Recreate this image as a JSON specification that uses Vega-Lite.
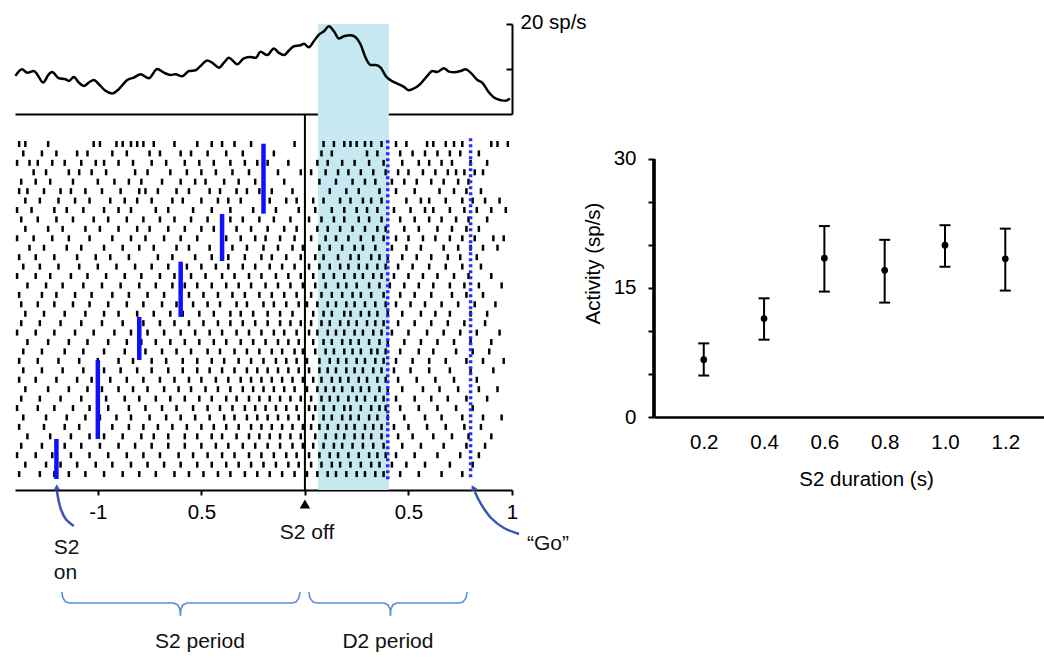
{
"$schema":"https://vega.github.io/schema/vega-lite/v6.json",
"background":"white",
"padding":{"left":10,"top":12,"right":0,"bottom":0},
"config":{"view":{"stroke":null},"font":"Liberation Sans","axis":{"domainColor":"black","tickColor":"black","labelColor":"black","titleColor":"black","labelFont":"Liberation Sans","titleFont":"Liberation Sans","labelFontSize":20.5,"titleFontSize":20.5,"titleFontWeight":"normal","grid":false,"domainWidth":2,"tickWidth":2}},
"datasets":{
"psth":[{"t":-1.398,"v":8.46},{"t":-1.366,"v":9.93},{"t":-1.341,"v":9.19},{"t":-1.309,"v":9.56},{"t":-1.293,"v":8.82},{"t":-1.264,"v":6.99},{"t":-1.237,"v":8.82},{"t":-1.221,"v":9.34},{"t":-1.188,"v":7.94},{"t":-1.156,"v":7.72},{"t":-1.14,"v":7.35},{"t":-1.116,"v":8.24},{"t":-1.092,"v":6.99},{"t":-1.068,"v":6.25},{"t":-1.043,"v":6.99},{"t":-1.019,"v":7.57},{"t":-0.995,"v":6.62},{"t":-0.963,"v":5.15},{"t":-0.931,"v":4.56},{"t":-0.899,"v":5.51},{"t":-0.858,"v":7.57},{"t":-0.826,"v":8.09},{"t":-0.794,"v":8.82},{"t":-0.754,"v":7.94},{"t":-0.713,"v":10.0},{"t":-0.681,"v":9.19},{"t":-0.649,"v":8.68},{"t":-0.625,"v":8.82},{"t":-0.593,"v":8.38},{"t":-0.56,"v":9.56},{"t":-0.528,"v":9.71},{"t":-0.504,"v":10.66},{"t":-0.472,"v":11.91},{"t":-0.448,"v":11.4},{"t":-0.415,"v":10.29},{"t":-0.391,"v":11.4},{"t":-0.367,"v":12.5},{"t":-0.343,"v":11.62},{"t":-0.327,"v":11.03},{"t":-0.295,"v":12.35},{"t":-0.262,"v":12.65},{"t":-0.238,"v":12.5},{"t":-0.214,"v":13.82},{"t":-0.182,"v":13.09},{"t":-0.15,"v":14.56},{"t":-0.126,"v":13.6},{"t":-0.101,"v":13.09},{"t":-0.077,"v":14.12},{"t":-0.053,"v":15.07},{"t":-0.021,"v":15.29},{"t":-0.005,"v":15.59},{"t":0.019,"v":14.85},{"t":0.043,"v":16.18},{"t":0.068,"v":17.65},{"t":0.092,"v":18.38},{"t":0.116,"v":19.49},{"t":0.14,"v":18.38},{"t":0.164,"v":16.76},{"t":0.188,"v":17.28},{"t":0.221,"v":17.5},{"t":0.245,"v":17.06},{"t":0.269,"v":15.44},{"t":0.293,"v":12.5},{"t":0.317,"v":10.88},{"t":0.341,"v":10.88},{"t":0.366,"v":10.29},{"t":0.39,"v":8.46},{"t":0.414,"v":7.5},{"t":0.446,"v":6.76},{"t":0.478,"v":6.03},{"t":0.502,"v":5.29},{"t":0.535,"v":5.88},{"t":0.559,"v":6.76},{"t":0.591,"v":8.46},{"t":0.615,"v":9.56},{"t":0.639,"v":9.34},{"t":0.671,"v":10.15},{"t":0.696,"v":9.41},{"t":0.72,"v":9.26},{"t":0.752,"v":9.56},{"t":0.776,"v":9.93},{"t":0.8,"v":9.19},{"t":0.833,"v":7.57},{"t":0.857,"v":6.91},{"t":0.889,"v":4.78},{"t":0.913,"v":3.68},{"t":0.945,"v":3.09},{"t":0.969,"v":2.94},{"t":0.99,"v":3.46}],
"spikes":[
{"r":1,"t":-1.38},{"r":1,"t":-1.35},{"r":1,"t":-1.24},{"r":1,"t":-1.02},{"r":1,"t":-0.99},{"r":1,"t":-0.91},{"r":1,"t":-0.88},{"r":1,"t":-0.84},{"r":1,"t":-0.81},{"r":1,"t":-0.78},{"r":1,"t":-0.73},{"r":1,"t":-0.63},{"r":1,"t":-0.52},{"r":1,"t":-0.45},{"r":1,"t":-0.4},{"r":1,"t":-0.34},{"r":1,"t":-0.26},{"r":1,"t":-0.05},{"r":1,"t":0.09},{"r":1,"t":0.14},{"r":1,"t":0.19},{"r":1,"t":0.22},{"r":1,"t":0.25},{"r":1,"t":0.29},{"r":1,"t":0.32},{"r":1,"t":0.37},{"r":1,"t":0.44},{"r":1,"t":0.49},{"r":1,"t":0.59},{"r":1,"t":0.62},{"r":1,"t":0.68},{"r":1,"t":0.72},{"r":1,"t":0.76},{"r":1,"t":0.9},{"r":1,"t":0.93},{"r":1,"t":0.98},
{"r":2,"t":-1.36},{"r":2,"t":-1.27},{"r":2,"t":-1.2},{"r":2,"t":-1.1},{"r":2,"t":-1.05},{"r":2,"t":-0.93},{"r":2,"t":-0.86},{"r":2,"t":-0.75},{"r":2,"t":-0.7},{"r":2,"t":-0.6},{"r":2,"t":-0.55},{"r":2,"t":-0.47},{"r":2,"t":-0.38},{"r":2,"t":-0.3},{"r":2,"t":-0.15},{"r":2,"t":0.08},{"r":2,"t":0.13},{"r":2,"t":0.3},{"r":2,"t":0.35},{"r":2,"t":0.46},{"r":2,"t":0.52},{"r":2,"t":0.58},{"r":2,"t":0.64},{"r":2,"t":0.7},{"r":2,"t":0.75},{"r":2,"t":0.84},
{"r":3,"t":-1.39},{"r":3,"t":-1.33},{"r":3,"t":-1.29},{"r":3,"t":-1.22},{"r":3,"t":-1.16},{"r":3,"t":-1.08},{"r":3,"t":-1.01},{"r":3,"t":-0.97},{"r":3,"t":-0.9},{"r":3,"t":-0.83},{"r":3,"t":-0.74},{"r":3,"t":-0.67},{"r":3,"t":-0.58},{"r":3,"t":-0.51},{"r":3,"t":-0.44},{"r":3,"t":-0.36},{"r":3,"t":-0.29},{"r":3,"t":-0.23},{"r":3,"t":-0.18},{"r":3,"t":-0.08},{"r":3,"t":0.06},{"r":3,"t":0.11},{"r":3,"t":0.18},{"r":3,"t":0.24},{"r":3,"t":0.31},{"r":3,"t":0.38},{"r":3,"t":0.47},{"r":3,"t":0.55},{"r":3,"t":0.6},{"r":3,"t":0.66},{"r":3,"t":0.71},{"r":3,"t":0.8},{"r":3,"t":0.88},
{"r":4,"t":-1.31},{"r":4,"t":-1.25},{"r":4,"t":-1.14},{"r":4,"t":-1.09},{"r":4,"t":-1.03},{"r":4,"t":-0.96},{"r":4,"t":-0.82},{"r":4,"t":-0.76},{"r":4,"t":-0.65},{"r":4,"t":-0.57},{"r":4,"t":-0.5},{"r":4,"t":-0.43},{"r":4,"t":-0.35},{"r":4,"t":-0.27},{"r":4,"t":-0.13},{"r":4,"t":-0.02},{"r":4,"t":0.03},{"r":4,"t":0.1},{"r":4,"t":0.16},{"r":4,"t":0.21},{"r":4,"t":0.27},{"r":4,"t":0.33},{"r":4,"t":0.39},{"r":4,"t":0.45},{"r":4,"t":0.5},{"r":4,"t":0.57},{"r":4,"t":0.63},{"r":4,"t":0.69},{"r":4,"t":0.73},{"r":4,"t":0.77},{"r":4,"t":0.82},{"r":4,"t":0.86},
{"r":5,"t":-1.37},{"r":5,"t":-1.3},{"r":5,"t":-1.23},{"r":5,"t":-1.12},{"r":5,"t":-1.0},{"r":5,"t":-0.92},{"r":5,"t":-0.85},{"r":5,"t":-0.79},{"r":5,"t":-0.69},{"r":5,"t":-0.6},{"r":5,"t":-0.53},{"r":5,"t":-0.48},{"r":5,"t":-0.39},{"r":5,"t":-0.32},{"r":5,"t":-0.24},{"r":5,"t":-0.1},{"r":5,"t":0.07},{"r":5,"t":0.15},{"r":5,"t":0.23},{"r":5,"t":0.29},{"r":5,"t":0.34},{"r":5,"t":0.42},{"r":5,"t":0.48},{"r":5,"t":0.54},{"r":5,"t":0.61},{"r":5,"t":0.67},{"r":5,"t":0.74},{"r":5,"t":0.79},
{"r":6,"t":-1.38},{"r":6,"t":-1.34},{"r":6,"t":-1.26},{"r":6,"t":-1.18},{"r":6,"t":-1.13},{"r":6,"t":-1.06},{"r":6,"t":-0.98},{"r":6,"t":-0.89},{"r":6,"t":-0.8},{"r":6,"t":-0.77},{"r":6,"t":-0.71},{"r":6,"t":-0.62},{"r":6,"t":-0.56},{"r":6,"t":-0.46},{"r":6,"t":-0.41},{"r":6,"t":-0.33},{"r":6,"t":-0.28},{"r":6,"t":-0.22},{"r":6,"t":-0.16},{"r":6,"t":-0.06},{"r":6,"t":0.12},{"r":6,"t":0.2},{"r":6,"t":0.26},{"r":6,"t":0.36},{"r":6,"t":0.44},{"r":6,"t":0.53},{"r":6,"t":0.65},{"r":6,"t":0.72},{"r":6,"t":0.78},{"r":6,"t":0.85},
{"r":7,"t":-1.35},{"r":7,"t":-1.28},{"r":7,"t":-1.19},{"r":7,"t":-1.11},{"r":7,"t":-1.04},{"r":7,"t":-0.94},{"r":7,"t":-0.87},{"r":7,"t":-0.81},{"r":7,"t":-0.74},{"r":7,"t":-0.64},{"r":7,"t":-0.59},{"r":7,"t":-0.5},{"r":7,"t":-0.42},{"r":7,"t":-0.37},{"r":7,"t":-0.31},{"r":7,"t":-0.17},{"r":7,"t":-0.09},{"r":7,"t":-0.04},{"r":7,"t":0.04},{"r":7,"t":0.09},{"r":7,"t":0.17},{"r":7,"t":0.22},{"r":7,"t":0.28},{"r":7,"t":0.32},{"r":7,"t":0.37},{"r":7,"t":0.49},{"r":7,"t":0.56},{"r":7,"t":0.6},{"r":7,"t":0.68},{"r":7,"t":0.76},{"r":7,"t":0.81},{"r":7,"t":0.87},{"r":7,"t":0.94},
{"r":8,"t":-1.39},{"r":8,"t":-1.32},{"r":8,"t":-1.21},{"r":8,"t":-1.15},{"r":8,"t":-1.07},{"r":8,"t":-0.97},{"r":8,"t":-0.9},{"r":8,"t":-0.84},{"r":8,"t":-0.72},{"r":8,"t":-0.66},{"r":8,"t":-0.54},{"r":8,"t":-0.45},{"r":8,"t":-0.36},{"r":8,"t":-0.25},{"r":8,"t":-0.14},{"r":8,"t":-0.03},{"r":8,"t":0.05},{"r":8,"t":0.13},{"r":8,"t":0.19},{"r":8,"t":0.25},{"r":8,"t":0.3},{"r":8,"t":0.35},{"r":8,"t":0.43},{"r":8,"t":0.51},{"r":8,"t":0.58},{"r":8,"t":0.62},{"r":8,"t":0.7},{"r":8,"t":0.77},{"r":8,"t":0.83},{"r":8,"t":0.9},{"r":8,"t":0.97},
{"r":9,"t":-1.37},{"r":9,"t":-1.29},{"r":9,"t":-1.2},{"r":9,"t":-1.12},{"r":9,"t":-1.02},{"r":9,"t":-0.95},{"r":9,"t":-0.86},{"r":9,"t":-0.78},{"r":9,"t":-0.7},{"r":9,"t":-0.63},{"r":9,"t":-0.55},{"r":9,"t":-0.47},{"r":9,"t":-0.36},{"r":9,"t":-0.3},{"r":9,"t":-0.22},{"r":9,"t":-0.15},{"r":9,"t":-0.07},{"r":9,"t":0.02},{"r":9,"t":0.08},{"r":9,"t":0.14},{"r":9,"t":0.19},{"r":9,"t":0.26},{"r":9,"t":0.31},{"r":9,"t":0.37},{"r":9,"t":0.46},{"r":9,"t":0.53},{"r":9,"t":0.6},{"r":9,"t":0.66},{"r":9,"t":0.73},{"r":9,"t":0.79},{"r":9,"t":0.88},
{"r":10,"t":-1.35},{"r":10,"t":-1.24},{"r":10,"t":-1.17},{"r":10,"t":-1.06},{"r":10,"t":-0.99},{"r":10,"t":-0.9},{"r":10,"t":-0.81},{"r":10,"t":-0.75},{"r":10,"t":-0.66},{"r":10,"t":-0.58},{"r":10,"t":-0.5},{"r":10,"t":-0.44},{"r":10,"t":-0.33},{"r":10,"t":-0.26},{"r":10,"t":-0.18},{"r":10,"t":-0.1},{"r":10,"t":-0.04},{"r":10,"t":0.06},{"r":10,"t":0.11},{"r":10,"t":0.17},{"r":10,"t":0.23},{"r":10,"t":0.29},{"r":10,"t":0.35},{"r":10,"t":0.39},{"r":10,"t":0.48},{"r":10,"t":0.55},{"r":10,"t":0.64},{"r":10,"t":0.71},{"r":10,"t":0.78},{"r":10,"t":0.84},
{"r":11,"t":-1.39},{"r":11,"t":-1.31},{"r":11,"t":-1.22},{"r":11,"t":-1.14},{"r":11,"t":-1.04},{"r":11,"t":-0.93},{"r":11,"t":-0.84},{"r":11,"t":-0.77},{"r":11,"t":-0.68},{"r":11,"t":-0.6},{"r":11,"t":-0.52},{"r":11,"t":-0.38},{"r":11,"t":-0.31},{"r":11,"t":-0.24},{"r":11,"t":-0.19},{"r":11,"t":-0.12},{"r":11,"t":-0.05},{"r":11,"t":0.03},{"r":11,"t":0.1},{"r":11,"t":0.15},{"r":11,"t":0.21},{"r":11,"t":0.27},{"r":11,"t":0.33},{"r":11,"t":0.38},{"r":11,"t":0.44},{"r":11,"t":0.5},{"r":11,"t":0.57},{"r":11,"t":0.63},{"r":11,"t":0.7},{"r":11,"t":0.76},{"r":11,"t":0.82},{"r":11,"t":0.91},{"r":11,"t":0.96},
{"r":12,"t":-1.33},{"r":12,"t":-1.26},{"r":12,"t":-1.15},{"r":12,"t":-1.08},{"r":12,"t":-0.97},{"r":12,"t":-0.88},{"r":12,"t":-0.8},{"r":12,"t":-0.73},{"r":12,"t":-0.62},{"r":12,"t":-0.56},{"r":12,"t":-0.46},{"r":12,"t":-0.35},{"r":12,"t":-0.28},{"r":12,"t":-0.2},{"r":12,"t":-0.13},{"r":12,"t":-0.06},{"r":12,"t":-0.01},{"r":12,"t":0.07},{"r":12,"t":0.12},{"r":12,"t":0.18},{"r":12,"t":0.24},{"r":12,"t":0.28},{"r":12,"t":0.34},{"r":12,"t":0.42},{"r":12,"t":0.49},{"r":12,"t":0.56},{"r":12,"t":0.67},{"r":12,"t":0.74},{"r":12,"t":0.8},{"r":12,"t":0.86},{"r":12,"t":0.93},
{"r":13,"t":-1.38},{"r":13,"t":-1.3},{"r":13,"t":-1.21},{"r":13,"t":-1.1},{"r":13,"t":-1.01},{"r":13,"t":-0.94},{"r":13,"t":-0.85},{"r":13,"t":-0.71},{"r":13,"t":-0.64},{"r":13,"t":-0.53},{"r":13,"t":-0.45},{"r":13,"t":-0.37},{"r":13,"t":-0.29},{"r":13,"t":-0.21},{"r":13,"t":-0.16},{"r":13,"t":-0.09},{"r":13,"t":-0.02},{"r":13,"t":0.05},{"r":13,"t":0.09},{"r":13,"t":0.16},{"r":13,"t":0.22},{"r":13,"t":0.26},{"r":13,"t":0.32},{"r":13,"t":0.36},{"r":13,"t":0.4},{"r":13,"t":0.47},{"r":13,"t":0.54},{"r":13,"t":0.61},{"r":13,"t":0.69},{"r":13,"t":0.75},{"r":13,"t":0.83},
{"r":14,"t":-1.36},{"r":14,"t":-1.28},{"r":14,"t":-1.19},{"r":14,"t":-1.09},{"r":14,"t":-1.0},{"r":14,"t":-0.91},{"r":14,"t":-0.82},{"r":14,"t":-0.74},{"r":14,"t":-0.66},{"r":14,"t":-0.57},{"r":14,"t":-0.5},{"r":14,"t":-0.43},{"r":14,"t":-0.37},{"r":14,"t":-0.3},{"r":14,"t":-0.24},{"r":14,"t":-0.17},{"r":14,"t":-0.11},{"r":14,"t":-0.05},{"r":14,"t":0.02},{"r":14,"t":0.07},{"r":14,"t":0.12},{"r":14,"t":0.17},{"r":14,"t":0.21},{"r":14,"t":0.26},{"r":14,"t":0.3},{"r":14,"t":0.35},{"r":14,"t":0.39},{"r":14,"t":0.45},{"r":14,"t":0.52},{"r":14,"t":0.6},{"r":14,"t":0.68},{"r":14,"t":0.76},{"r":14,"t":0.85},
{"r":15,"t":-1.39},{"r":15,"t":-1.3},{"r":15,"t":-1.23},{"r":15,"t":-1.13},{"r":15,"t":-1.05},{"r":15,"t":-0.96},{"r":15,"t":-0.87},{"r":15,"t":-0.79},{"r":15,"t":-0.7},{"r":15,"t":-0.63},{"r":15,"t":-0.55},{"r":15,"t":-0.48},{"r":15,"t":-0.4},{"r":15,"t":-0.34},{"r":15,"t":-0.27},{"r":15,"t":-0.21},{"r":15,"t":-0.14},{"r":15,"t":-0.08},{"r":15,"t":-0.02},{"r":15,"t":0.04},{"r":15,"t":0.09},{"r":15,"t":0.14},{"r":15,"t":0.19},{"r":15,"t":0.24},{"r":15,"t":0.28},{"r":15,"t":0.33},{"r":15,"t":0.37},{"r":15,"t":0.43},{"r":15,"t":0.5},{"r":15,"t":0.57},{"r":15,"t":0.64},{"r":15,"t":0.72},{"r":15,"t":0.79},{"r":15,"t":0.9},
{"r":16,"t":-1.34},{"r":16,"t":-1.25},{"r":16,"t":-1.17},{"r":16,"t":-1.07},{"r":16,"t":-0.98},{"r":16,"t":-0.89},{"r":16,"t":-0.8},{"r":16,"t":-0.72},{"r":16,"t":-0.64},{"r":16,"t":-0.58},{"r":16,"t":-0.52},{"r":16,"t":-0.45},{"r":16,"t":-0.38},{"r":16,"t":-0.32},{"r":16,"t":-0.26},{"r":16,"t":-0.19},{"r":16,"t":-0.13},{"r":16,"t":-0.07},{"r":16,"t":-0.01},{"r":16,"t":0.05},{"r":16,"t":0.1},{"r":16,"t":0.16},{"r":16,"t":0.2},{"r":16,"t":0.25},{"r":16,"t":0.31},{"r":16,"t":0.36},{"r":16,"t":0.41},{"r":16,"t":0.48},{"r":16,"t":0.55},{"r":16,"t":0.62},{"r":16,"t":0.7},{"r":16,"t":0.77},{"r":16,"t":0.84},{"r":16,"t":0.95},
{"r":17,"t":-1.38},{"r":17,"t":-1.27},{"r":17,"t":-1.2},{"r":17,"t":-1.11},{"r":17,"t":-1.03},{"r":17,"t":-0.93},{"r":17,"t":-0.85},{"r":17,"t":-0.76},{"r":17,"t":-0.68},{"r":17,"t":-0.56},{"r":17,"t":-0.49},{"r":17,"t":-0.42},{"r":17,"t":-0.35},{"r":17,"t":-0.29},{"r":17,"t":-0.22},{"r":17,"t":-0.16},{"r":17,"t":-0.1},{"r":17,"t":-0.04},{"r":17,"t":0.03},{"r":17,"t":0.08},{"r":17,"t":0.13},{"r":17,"t":0.18},{"r":17,"t":0.23},{"r":17,"t":0.27},{"r":17,"t":0.32},{"r":17,"t":0.38},{"r":17,"t":0.46},{"r":17,"t":0.53},{"r":17,"t":0.61},{"r":17,"t":0.71},{"r":17,"t":0.78},{"r":17,"t":0.86},
{"r":18,"t":-1.37},{"r":18,"t":-1.29},{"r":18,"t":-1.21},{"r":18,"t":-1.12},{"r":18,"t":-1.04},{"r":18,"t":-0.95},{"r":18,"t":-0.86},{"r":18,"t":-0.78},{"r":18,"t":-0.69},{"r":18,"t":-0.62},{"r":18,"t":-0.54},{"r":18,"t":-0.47},{"r":18,"t":-0.41},{"r":18,"t":-0.33},{"r":18,"t":-0.28},{"r":18,"t":-0.2},{"r":18,"t":-0.15},{"r":18,"t":-0.09},{"r":18,"t":-0.03},{"r":18,"t":0.01},{"r":18,"t":0.06},{"r":18,"t":0.11},{"r":18,"t":0.15},{"r":18,"t":0.2},{"r":18,"t":0.24},{"r":18,"t":0.29},{"r":18,"t":0.34},{"r":18,"t":0.39},{"r":18,"t":0.44},{"r":18,"t":0.51},{"r":18,"t":0.58},{"r":18,"t":0.66},{"r":18,"t":0.74},{"r":18,"t":0.82},{"r":18,"t":0.92},
{"r":19,"t":-1.35},{"r":19,"t":-1.26},{"r":19,"t":-1.16},{"r":19,"t":-1.06},{"r":19,"t":-0.97},{"r":19,"t":-0.9},{"r":19,"t":-0.81},{"r":19,"t":-0.73},{"r":19,"t":-0.65},{"r":19,"t":-0.59},{"r":19,"t":-0.51},{"r":19,"t":-0.44},{"r":19,"t":-0.36},{"r":19,"t":-0.31},{"r":19,"t":-0.25},{"r":19,"t":-0.18},{"r":19,"t":-0.12},{"r":19,"t":-0.06},{"r":19,"t":0.04},{"r":19,"t":0.09},{"r":19,"t":0.13},{"r":19,"t":0.19},{"r":19,"t":0.22},{"r":19,"t":0.27},{"r":19,"t":0.31},{"r":19,"t":0.35},{"r":19,"t":0.4},{"r":19,"t":0.47},{"r":19,"t":0.56},{"r":19,"t":0.63},{"r":19,"t":0.7},{"r":19,"t":0.8},{"r":19,"t":0.88},
{"r":20,"t":-1.37},{"r":20,"t":-1.28},{"r":20,"t":-1.18},{"r":20,"t":-1.08},{"r":20,"t":-0.98},{"r":20,"t":-0.88},{"r":20,"t":-0.78},{"r":20,"t":-0.7},{"r":20,"t":-0.63},{"r":20,"t":-0.56},{"r":20,"t":-0.49},{"r":20,"t":-0.42},{"r":20,"t":-0.36},{"r":20,"t":-0.3},{"r":20,"t":-0.24},{"r":20,"t":-0.18},{"r":20,"t":-0.12},{"r":20,"t":-0.07},{"r":20,"t":-0.02},{"r":20,"t":0.03},{"r":20,"t":0.08},{"r":20,"t":0.12},{"r":20,"t":0.17},{"r":20,"t":0.21},{"r":20,"t":0.25},{"r":20,"t":0.3},{"r":20,"t":0.34},{"r":20,"t":0.38},{"r":20,"t":0.45},{"r":20,"t":0.53},{"r":20,"t":0.61},{"r":20,"t":0.69},{"r":20,"t":0.77},{"r":20,"t":0.87},
{"r":21,"t":-1.39},{"r":21,"t":-1.3},{"r":21,"t":-1.21},{"r":21,"t":-1.11},{"r":21,"t":-1.02},{"r":21,"t":-0.92},{"r":21,"t":-0.84},{"r":21,"t":-0.76},{"r":21,"t":-0.68},{"r":21,"t":-0.6},{"r":21,"t":-0.53},{"r":21,"t":-0.46},{"r":21,"t":-0.4},{"r":21,"t":-0.33},{"r":21,"t":-0.27},{"r":21,"t":-0.21},{"r":21,"t":-0.15},{"r":21,"t":-0.1},{"r":21,"t":-0.04},{"r":21,"t":0.02},{"r":21,"t":0.06},{"r":21,"t":0.11},{"r":21,"t":0.15},{"r":21,"t":0.19},{"r":21,"t":0.24},{"r":21,"t":0.28},{"r":21,"t":0.33},{"r":21,"t":0.37},{"r":21,"t":0.42},{"r":21,"t":0.5},{"r":21,"t":0.59},{"r":21,"t":0.67},{"r":21,"t":0.75},{"r":21,"t":0.83},{"r":21,"t":0.94},
{"r":22,"t":-1.34},{"r":22,"t":-1.24},{"r":22,"t":-1.14},{"r":22,"t":-1.05},{"r":22,"t":-0.95},{"r":22,"t":-0.86},{"r":22,"t":-0.79},{"r":22,"t":-0.72},{"r":22,"t":-0.65},{"r":22,"t":-0.58},{"r":22,"t":-0.51},{"r":22,"t":-0.44},{"r":22,"t":-0.38},{"r":22,"t":-0.31},{"r":22,"t":-0.25},{"r":22,"t":-0.19},{"r":22,"t":-0.13},{"r":22,"t":-0.08},{"r":22,"t":-0.03},{"r":22,"t":0.04},{"r":22,"t":0.09},{"r":22,"t":0.13},{"r":22,"t":0.18},{"r":22,"t":0.22},{"r":22,"t":0.26},{"r":22,"t":0.31},{"r":22,"t":0.36},{"r":22,"t":0.4},{"r":22,"t":0.48},{"r":22,"t":0.56},{"r":22,"t":0.64},{"r":22,"t":0.72},{"r":22,"t":0.8},{"r":22,"t":0.9},
{"r":23,"t":-1.36},{"r":23,"t":-1.27},{"r":23,"t":-1.16},{"r":23,"t":-1.07},{"r":23,"t":-0.97},{"r":23,"t":-0.87},{"r":23,"t":-0.77},{"r":23,"t":-0.69},{"r":23,"t":-0.62},{"r":23,"t":-0.55},{"r":23,"t":-0.47},{"r":23,"t":-0.41},{"r":23,"t":-0.34},{"r":23,"t":-0.28},{"r":23,"t":-0.22},{"r":23,"t":-0.16},{"r":23,"t":-0.11},{"r":23,"t":-0.05},{"r":23,"t":-0.01},{"r":23,"t":0.05},{"r":23,"t":0.1},{"r":23,"t":0.14},{"r":23,"t":0.19},{"r":23,"t":0.23},{"r":23,"t":0.27},{"r":23,"t":0.32},{"r":23,"t":0.35},{"r":23,"t":0.39},{"r":23,"t":0.46},{"r":23,"t":0.55},{"r":23,"t":0.62},{"r":23,"t":0.73},{"r":23,"t":0.81},{"r":23,"t":0.89},
{"r":24,"t":-1.38},{"r":24,"t":-1.29},{"r":24,"t":-1.19},{"r":24,"t":-1.09},{"r":24,"t":-1.0},{"r":24,"t":-0.9},{"r":24,"t":-0.83},{"r":24,"t":-0.74},{"r":24,"t":-0.67},{"r":24,"t":-0.59},{"r":24,"t":-0.52},{"r":24,"t":-0.45},{"r":24,"t":-0.39},{"r":24,"t":-0.32},{"r":24,"t":-0.26},{"r":24,"t":-0.2},{"r":24,"t":-0.14},{"r":24,"t":-0.09},{"r":24,"t":-0.04},{"r":24,"t":0.01},{"r":24,"t":0.07},{"r":24,"t":0.12},{"r":24,"t":0.16},{"r":24,"t":0.2},{"r":24,"t":0.25},{"r":24,"t":0.29},{"r":24,"t":0.34},{"r":24,"t":0.38},{"r":24,"t":0.44},{"r":24,"t":0.52},{"r":24,"t":0.6},{"r":24,"t":0.68},{"r":24,"t":0.78},{"r":24,"t":0.86},{"r":24,"t":0.96},
{"r":25,"t":-1.36},{"r":25,"t":-1.27},{"r":25,"t":-1.17},{"r":25,"t":-1.07},{"r":25,"t":-0.97},{"r":25,"t":-0.89},{"r":25,"t":-0.81},{"r":25,"t":-0.74},{"r":25,"t":-0.66},{"r":25,"t":-0.59},{"r":25,"t":-0.52},{"r":25,"t":-0.46},{"r":25,"t":-0.4},{"r":25,"t":-0.34},{"r":25,"t":-0.28},{"r":25,"t":-0.23},{"r":25,"t":-0.18},{"r":25,"t":-0.13},{"r":25,"t":-0.08},{"r":25,"t":-0.03},{"r":25,"t":0.02},{"r":25,"t":0.07},{"r":25,"t":0.11},{"r":25,"t":0.15},{"r":25,"t":0.2},{"r":25,"t":0.24},{"r":25,"t":0.28},{"r":25,"t":0.33},{"r":25,"t":0.37},{"r":25,"t":0.43},{"r":25,"t":0.51},{"r":25,"t":0.6},{"r":25,"t":0.7},{"r":25,"t":0.8},{"r":25,"t":0.91},
{"r":26,"t":-1.38},{"r":26,"t":-1.3},{"r":26,"t":-1.2},{"r":26,"t":-1.1},{"r":26,"t":-1.03},{"r":26,"t":-0.94},{"r":26,"t":-0.86},{"r":26,"t":-0.78},{"r":26,"t":-0.7},{"r":26,"t":-0.63},{"r":26,"t":-0.56},{"r":26,"t":-0.5},{"r":26,"t":-0.43},{"r":26,"t":-0.37},{"r":26,"t":-0.31},{"r":26,"t":-0.26},{"r":26,"t":-0.21},{"r":26,"t":-0.16},{"r":26,"t":-0.11},{"r":26,"t":-0.06},{"r":26,"t":-0.01},{"r":26,"t":0.04},{"r":26,"t":0.08},{"r":26,"t":0.13},{"r":26,"t":0.17},{"r":26,"t":0.21},{"r":26,"t":0.26},{"r":26,"t":0.3},{"r":26,"t":0.35},{"r":26,"t":0.39},{"r":26,"t":0.45},{"r":26,"t":0.54},{"r":26,"t":0.63},{"r":26,"t":0.72},{"r":26,"t":0.83},
{"r":27,"t":-1.35},{"r":27,"t":-1.24},{"r":27,"t":-1.14},{"r":27,"t":-1.05},{"r":27,"t":-0.98},{"r":27,"t":-0.9},{"r":27,"t":-0.83},{"r":27,"t":-0.76},{"r":27,"t":-0.68},{"r":27,"t":-0.61},{"r":27,"t":-0.55},{"r":27,"t":-0.48},{"r":27,"t":-0.42},{"r":27,"t":-0.36},{"r":27,"t":-0.3},{"r":27,"t":-0.25},{"r":27,"t":-0.2},{"r":27,"t":-0.15},{"r":27,"t":-0.1},{"r":27,"t":-0.05},{"r":27,"t":0.01},{"r":27,"t":0.06},{"r":27,"t":0.1},{"r":27,"t":0.14},{"r":27,"t":0.18},{"r":27,"t":0.23},{"r":27,"t":0.27},{"r":27,"t":0.31},{"r":27,"t":0.36},{"r":27,"t":0.4},{"r":27,"t":0.47},{"r":27,"t":0.57},{"r":27,"t":0.65},{"r":27,"t":0.74},{"r":27,"t":0.84},{"r":27,"t":0.93},
{"r":28,"t":-1.37},{"r":28,"t":-1.28},{"r":28,"t":-1.18},{"r":28,"t":-1.08},{"r":28,"t":-0.96},{"r":28,"t":-0.87},{"r":28,"t":-0.8},{"r":28,"t":-0.72},{"r":28,"t":-0.65},{"r":28,"t":-0.58},{"r":28,"t":-0.51},{"r":28,"t":-0.45},{"r":28,"t":-0.38},{"r":28,"t":-0.33},{"r":28,"t":-0.27},{"r":28,"t":-0.22},{"r":28,"t":-0.17},{"r":28,"t":-0.12},{"r":28,"t":-0.07},{"r":28,"t":-0.02},{"r":28,"t":0.03},{"r":28,"t":0.08},{"r":28,"t":0.12},{"r":28,"t":0.16},{"r":28,"t":0.21},{"r":28,"t":0.25},{"r":28,"t":0.29},{"r":28,"t":0.34},{"r":28,"t":0.38},{"r":28,"t":0.44},{"r":28,"t":0.53},{"r":28,"t":0.61},{"r":28,"t":0.69},{"r":28,"t":0.78},{"r":28,"t":0.88},
{"r":29,"t":-1.39},{"r":29,"t":-1.29},{"r":29,"t":-1.21},{"r":29,"t":-1.12},{"r":29,"t":-1.04},{"r":29,"t":-0.95},{"r":29,"t":-0.85},{"r":29,"t":-0.77},{"r":29,"t":-0.69},{"r":29,"t":-0.62},{"r":29,"t":-0.54},{"r":29,"t":-0.47},{"r":29,"t":-0.41},{"r":29,"t":-0.35},{"r":29,"t":-0.29},{"r":29,"t":-0.24},{"r":29,"t":-0.19},{"r":29,"t":-0.14},{"r":29,"t":-0.09},{"r":29,"t":-0.04},{"r":29,"t":0.02},{"r":29,"t":0.05},{"r":29,"t":0.09},{"r":29,"t":0.14},{"r":29,"t":0.19},{"r":29,"t":0.22},{"r":29,"t":0.27},{"r":29,"t":0.32},{"r":29,"t":0.36},{"r":29,"t":0.39},{"r":29,"t":0.46},{"r":29,"t":0.55},{"r":29,"t":0.64},{"r":29,"t":0.73},{"r":29,"t":0.81},
{"r":30,"t":-1.36},{"r":30,"t":-1.25},{"r":30,"t":-1.15},{"r":30,"t":-1.06},{"r":30,"t":-0.99},{"r":30,"t":-0.91},{"r":30,"t":-0.84},{"r":30,"t":-0.75},{"r":30,"t":-0.67},{"r":30,"t":-0.6},{"r":30,"t":-0.53},{"r":30,"t":-0.46},{"r":30,"t":-0.39},{"r":30,"t":-0.34},{"r":30,"t":-0.28},{"r":30,"t":-0.23},{"r":30,"t":-0.18},{"r":30,"t":-0.13},{"r":30,"t":-0.08},{"r":30,"t":-0.03},{"r":30,"t":0.04},{"r":30,"t":0.09},{"r":30,"t":0.13},{"r":30,"t":0.18},{"r":30,"t":0.22},{"r":30,"t":0.26},{"r":30,"t":0.31},{"r":30,"t":0.35},{"r":30,"t":0.4},{"r":30,"t":0.48},{"r":30,"t":0.58},{"r":30,"t":0.66},{"r":30,"t":0.76},{"r":30,"t":0.86},{"r":30,"t":0.95},
{"r":31,"t":-1.38},{"r":31,"t":-1.26},{"r":31,"t":-1.16},{"r":31,"t":-1.09},{"r":31,"t":-0.93},{"r":31,"t":-0.85},{"r":31,"t":-0.78},{"r":31,"t":-0.71},{"r":31,"t":-0.64},{"r":31,"t":-0.57},{"r":31,"t":-0.5},{"r":31,"t":-0.44},{"r":31,"t":-0.38},{"r":31,"t":-0.32},{"r":31,"t":-0.26},{"r":31,"t":-0.21},{"r":31,"t":-0.16},{"r":31,"t":-0.11},{"r":31,"t":-0.06},{"r":31,"t":-0.01},{"r":31,"t":0.03},{"r":31,"t":0.07},{"r":31,"t":0.11},{"r":31,"t":0.16},{"r":31,"t":0.2},{"r":31,"t":0.24},{"r":31,"t":0.29},{"r":31,"t":0.33},{"r":31,"t":0.37},{"r":31,"t":0.43},{"r":31,"t":0.5},{"r":31,"t":0.59},{"r":31,"t":0.68},{"r":31,"t":0.77},{"r":31,"t":0.85},
{"r":32,"t":-1.34},{"r":32,"t":-1.23},{"r":32,"t":-1.13},{"r":32,"t":-1.04},{"r":32,"t":-0.97},{"r":32,"t":-0.88},{"r":32,"t":-0.79},{"r":32,"t":-0.73},{"r":32,"t":-0.66},{"r":32,"t":-0.58},{"r":32,"t":-0.52},{"r":32,"t":-0.45},{"r":32,"t":-0.4},{"r":32,"t":-0.33},{"r":32,"t":-0.27},{"r":32,"t":-0.22},{"r":32,"t":-0.17},{"r":32,"t":-0.12},{"r":32,"t":-0.07},{"r":32,"t":-0.02},{"r":32,"t":0.05},{"r":32,"t":0.1},{"r":32,"t":0.15},{"r":32,"t":0.19},{"r":32,"t":0.24},{"r":32,"t":0.28},{"r":32,"t":0.32},{"r":32,"t":0.37},{"r":32,"t":0.45},{"r":32,"t":0.52},{"r":32,"t":0.62},{"r":32,"t":0.71},{"r":32,"t":0.79},{"r":32,"t":0.9},
{"r":33,"t":-1.37},{"r":33,"t":-1.27},{"r":33,"t":-1.16},{"r":33,"t":-1.08},{"r":33,"t":-0.99},{"r":33,"t":-0.9},{"r":33,"t":-0.82},{"r":33,"t":-0.74},{"r":33,"t":-0.66},{"r":33,"t":-0.58},{"r":33,"t":-0.5},{"r":33,"t":-0.43},{"r":33,"t":-0.37},{"r":33,"t":-0.3},{"r":33,"t":-0.24},{"r":33,"t":-0.18},{"r":33,"t":-0.12},{"r":33,"t":-0.06},{"r":33,"t":-0.01},{"r":33,"t":0.04},{"r":33,"t":0.09},{"r":33,"t":0.14},{"r":33,"t":0.18},{"r":33,"t":0.23},{"r":33,"t":0.28},{"r":33,"t":0.33},{"r":33,"t":0.38},{"r":33,"t":0.47},{"r":33,"t":0.56},{"r":33,"t":0.67},{"r":33,"t":0.78},{"r":33,"t":0.87},
{"r":34,"t":-1.39},{"r":34,"t":-1.3},{"r":34,"t":-1.22},{"r":34,"t":-1.13},{"r":34,"t":-1.04},{"r":34,"t":-0.95},{"r":34,"t":-0.86},{"r":34,"t":-0.78},{"r":34,"t":-0.7},{"r":34,"t":-0.61},{"r":34,"t":-0.54},{"r":34,"t":-0.47},{"r":34,"t":-0.4},{"r":34,"t":-0.34},{"r":34,"t":-0.27},{"r":34,"t":-0.21},{"r":34,"t":-0.15},{"r":34,"t":-0.09},{"r":34,"t":-0.04},{"r":34,"t":0.02},{"r":34,"t":0.07},{"r":34,"t":0.12},{"r":34,"t":0.16},{"r":34,"t":0.21},{"r":34,"t":0.26},{"r":34,"t":0.31},{"r":34,"t":0.35},{"r":34,"t":0.39},{"r":34,"t":0.44},{"r":34,"t":0.53},{"r":34,"t":0.64},{"r":34,"t":0.75},{"r":34,"t":0.84},
{"r":35,"t":-1.35},{"r":35,"t":-1.25},{"r":35,"t":-1.18},{"r":35,"t":-1.1},{"r":35,"t":-1.01},{"r":35,"t":-0.93},{"r":35,"t":-0.84},{"r":35,"t":-0.76},{"r":35,"t":-0.68},{"r":35,"t":-0.6},{"r":35,"t":-0.52},{"r":35,"t":-0.45},{"r":35,"t":-0.38},{"r":35,"t":-0.32},{"r":35,"t":-0.26},{"r":35,"t":-0.2},{"r":35,"t":-0.14},{"r":35,"t":-0.08},{"r":35,"t":-0.03},{"r":35,"t":0.03},{"r":35,"t":0.08},{"r":35,"t":0.13},{"r":35,"t":0.17},{"r":35,"t":0.22},{"r":35,"t":0.27},{"r":35,"t":0.32},{"r":35,"t":0.36},{"r":35,"t":0.42},{"r":35,"t":0.49},{"r":35,"t":0.58},{"r":35,"t":0.7},{"r":35,"t":0.81},
{"r":36,"t":-1.38},{"r":36,"t":-1.28},{"r":36,"t":-1.21},{"r":36,"t":-1.14},{"r":36,"t":-1.06},{"r":36,"t":-0.97},{"r":36,"t":-0.88},{"r":36,"t":-0.8},{"r":36,"t":-0.72},{"r":36,"t":-0.63},{"r":36,"t":-0.56},{"r":36,"t":-0.49},{"r":36,"t":-0.42},{"r":36,"t":-0.36},{"r":36,"t":-0.29},{"r":36,"t":-0.23},{"r":36,"t":-0.17},{"r":36,"t":-0.11},{"r":36,"t":-0.05},{"r":36,"t":0.01},{"r":36,"t":0.06},{"r":36,"t":0.11},{"r":36,"t":0.15},{"r":36,"t":0.2},{"r":36,"t":0.25},{"r":36,"t":0.29},{"r":36,"t":0.34},{"r":36,"t":0.38},{"r":36,"t":0.46},{"r":36,"t":0.55},{"r":36,"t":0.66},{"r":36,"t":0.76}
],
"onsets":[{"t":-0.2,"r1":0.97,"r2":8.39},{"t":-0.4,"r1":8.42,"r2":13.41},{"t":-0.6,"r1":13.48,"r2":19.34},{"t":-0.8,"r1":19.34,"r2":23.9},{"t":-1.0,"r1":23.9,"r2":32.28},{"t":-1.2,"r1":32.28,"r2":36.52}],
"events":[{"t":0.4,"r1":0.6,"r2":36.6},{"t":0.8,"r1":0.4,"r2":36.6}],
"shade":[{"t1":0.063,"t2":0.405}],
"zero":[{"t":0}],
"labels":[{"t":0.01,"r":42.25,"txt":"S2 off","a":"c"},{"t":-1.213,"r":43.84,"txt":"S2","a":"l"},{"t":-1.213,"r":46.49,"txt":"on","a":"l"},{"t":1.072,"r":43.41,"txt":"“Go”","a":"l"},{"t":-0.507,"r":53.8,"txt":"S2 period","a":"c"},{"t":0.401,"r":53.8,"txt":"D2 period","a":"c"}],
"arrows":[{"g":"on","o":1,"t":-1.116,"r":41.5},{"g":"on","o":2,"t":-1.155,"r":40.76},{"g":"on","o":3,"t":-1.179,"r":39.7},{"g":"on","o":4,"t":-1.192,"r":38.54},{"g":"on","o":5,"t":-1.197,"r":37.79},{"g":"go","o":1,"t":1.034,"r":42.35},{"g":"go","o":2,"t":0.961,"r":41.72},{"g":"go","o":3,"t":0.899,"r":40.66},{"g":"go","o":4,"t":0.85,"r":39.17},{"g":"go","o":5,"t":0.821,"r":37.9}],
"braces":[{"g":"s","o":1,"t":-1.174,"r":48.5},{"g":"s","o":2,"t":-1.169,"r":49.14},{"g":"s","o":3,"t":-1.155,"r":49.56},{"g":"s","o":4,"t":-1.135,"r":49.67},{"g":"s","o":5,"t":-0.633,"r":49.67},{"g":"s","o":6,"t":-0.614,"r":49.88},{"g":"s","o":7,"t":-0.604,"r":50.31},{"g":"s","o":8,"t":-0.601,"r":51.05},{"g":"s","o":9,"t":-0.599,"r":50.31},{"g":"s","o":10,"t":-0.589,"r":49.88},{"g":"s","o":11,"t":-0.57,"r":49.67},{"g":"s","o":12,"t":-0.063,"r":49.67},{"g":"s","o":13,"t":-0.043,"r":49.56},{"g":"s","o":14,"t":-0.029,"r":49.14},{"g":"s","o":15,"t":-0.024,"r":48.5},
{"g":"d","o":1,"t":0.019,"r":48.5},{"g":"d","o":2,"t":0.024,"r":49.14},{"g":"d","o":3,"t":0.039,"r":49.56},{"g":"d","o":4,"t":0.058,"r":49.67},{"g":"d","o":5,"t":0.382,"r":49.67},{"g":"d","o":6,"t":0.401,"r":49.88},{"g":"d","o":7,"t":0.411,"r":50.31},{"g":"d","o":8,"t":0.413,"r":51.05},{"g":"d","o":9,"t":0.415,"r":50.31},{"g":"d","o":10,"t":0.425,"r":49.88},{"g":"d","o":11,"t":0.444,"r":49.67},{"g":"d","o":12,"t":0.744,"r":49.67},{"g":"d","o":13,"t":0.763,"r":49.56},{"g":"d","o":14,"t":0.778,"r":49.14},{"g":"d","o":15,"t":0.783,"r":48.5}],
"act":[{"d":0.2,"m":6.67,"lo":4.82,"hi":8.56},{"d":0.4,"m":11.45,"lo":8.99,"hi":13.8},{"d":0.6,"m":18.47,"lo":14.58,"hi":22.2},{"d":0.8,"m":17.05,"lo":13.3,"hi":20.6},{"d":1.0,"m":19.98,"lo":17.47,"hi":22.3},{"d":1.2,"m":18.4,"lo":14.7,"hi":21.9}]
},
"bounds":"flush",
"columns":2,
"spacing":{"column":142,"row":0},
"resolve":{"scale":{"x":"independent","y":"independent"}},
"concat":[
 {"width":497,"height":90,
  "layer":[
   {"data":{"name":"shade"},"mark":{"type":"rect","color":"#c6e8f1"},
    "encoding":{"x":{"field":"t1","type":"quantitative","scale":{"domain":[-1.4,1.0],"nice":false,"zero":false},"axis":{"ticks":false,"labels":false,"title":null,"domainWidth":2}},"x2":{"field":"t2"}}},
   {"data":{"name":"psth"},"mark":{"type":"line","color":"black","strokeWidth":2.5,"interpolate":"monotone"},
    "encoding":{"x":{"field":"t","type":"quantitative"},
     "y":{"field":"v","type":"quantitative","scale":{"domain":[0,20],"nice":false,"zero":false},"axis":{"orient":"right","values":[10,20],"tickSize":-6,"labelPadding":14,"labelBaseline":"middle","labelOffset":-2,"labelExpr":"datum.value == 20 ? '20 sp/s' : ''","title":null,"domainWidth":2}}}}
  ]},
 {"width":392,"height":90,"data":{"values":[]},"mark":"point"},
 {"width":497,"height":376,
  "layer":[
   {"data":{"name":"shade"},"mark":{"type":"rect","color":"#c6e8f1"},
    "encoding":{"x":{"field":"t1","type":"quantitative","scale":{"domain":[-1.4,1.0],"nice":false,"zero":false},"axis":{"values":[-1,-0.5,0,0.5,1],"tickSize":5,"labelPadding":7,"labelExpr":"datum.value == -1 ? '-1' : datum.value == 1 ? '1' : datum.value == 0 ? '' : '0.5'","title":null,"domainWidth":2,"labelFlush":false}},"x2":{"field":"t2"}}},
   {"data":{"name":"zero"},"mark":{"type":"rule","color":"black","strokeWidth":2},
    "encoding":{"x":{"field":"t","type":"quantitative"}}},
   {"data":{"name":"spikes"},"mark":{"type":"tick","orient":"vertical","color":"black","size":6,"thickness":2.5,"opacity":1},
    "encoding":{"x":{"field":"t","type":"quantitative"},
     "y":{"field":"r","type":"quantitative","scale":{"domain":[-2.18,37.69],"nice":false,"zero":false,"reverse":true},"axis":null}}},
   {"data":{"name":"onsets"},"mark":{"type":"rule","color":"#1010ff","strokeWidth":4.5},
    "encoding":{"x":{"field":"t","type":"quantitative"},"y":{"field":"r1","type":"quantitative"},"y2":{"field":"r2"}}},
   {"data":{"name":"events"},"mark":{"type":"rule","color":"#2a2aff","strokeWidth":3.5,"strokeDash":[3,3]},
    "encoding":{"x":{"field":"t","type":"quantitative"},"y":{"field":"r1","type":"quantitative"},"y2":{"field":"r2"}}},
   {"data":{"values":[{"t":0,"r":39.17}]},"mark":{"type":"point","shape":"triangle-up","filled":true,"color":"black","size":110,"opacity":1},
    "encoding":{"x":{"field":"t","type":"quantitative"},"y":{"field":"r","type":"quantitative"}}},
   {"data":{"name":"labels"},"transform":[{"filter":"datum.a == 'c'"}],"mark":{"type":"text","fontSize":21,"font":"Liberation Sans","align":"center","baseline":"middle","color":"#111111"},
    "encoding":{"x":{"field":"t","type":"quantitative"},"y":{"field":"r","type":"quantitative"},"text":{"field":"txt"}}},
   {"data":{"name":"labels"},"transform":[{"filter":"datum.a == 'l'"}],"mark":{"type":"text","fontSize":21,"font":"Liberation Sans","align":"left","baseline":"middle","color":"#111111"},
    "encoding":{"x":{"field":"t","type":"quantitative"},"y":{"field":"r","type":"quantitative"},"text":{"field":"txt"}}},
   {"data":{"name":"arrows"},"mark":{"type":"line","color":"#3a55b4","strokeWidth":2.5,"interpolate":"cardinal"},
    "encoding":{"x":{"field":"t","type":"quantitative"},"y":{"field":"r","type":"quantitative"},"detail":{"field":"g"},"order":{"field":"o"}}},
   {"data":{"values":[{"t":-1.198,"r":37.4}]},"mark":{"type":"point","shape":"triangle-up","filled":true,"color":"#3a55b4","size":45,"opacity":1},
    "encoding":{"x":{"field":"t","type":"quantitative"},"y":{"field":"r","type":"quantitative"}}},
   {"data":{"values":[{"t":0.812,"r":37.45}]},"mark":{"type":"point","shape":"triangle-up","filled":true,"color":"#3a55b4","size":45,"opacity":1,"angle":-28},
    "encoding":{"x":{"field":"t","type":"quantitative"},"y":{"field":"r","type":"quantitative"}}},
   {"data":{"name":"braces"},"mark":{"type":"line","color":"#5b8fd6","strokeWidth":1.6,"interpolate":"linear"},
    "encoding":{"x":{"field":"t","type":"quantitative"},"y":{"field":"r","type":"quantitative"},"detail":{"field":"g"},"order":{"field":"o"}}}
  ]},
 {"width":392,"height":303,"data":{"name":"act"},
  "encoding":{"x":{"field":"d","type":"quantitative","scale":{"domain":[0.035,1.335],"nice":false,"zero":false},"axis":{"values":[0.2,0.4,0.6,0.8,1.0,1.2],"format":".1f","ticks":false,"labelPadding":15,"title":"S2 duration (s)","titleX":212,"titleY":62,"titleBaseline":"middle","domainWidth":2.5,"labelFlush":false}}},
  "layer":[
   {"mark":{"type":"rule","color":"black","strokeWidth":2.5},
    "encoding":{"x":{"datum":0.035},"y":{"datum":0},"y2":{"datum":30}}},
   {"mark":{"type":"rule","color":"black","strokeWidth":2},
    "encoding":{"y":{"field":"lo","type":"quantitative","scale":{"domain":[0,35.23],"nice":false,"zero":false},"axis":{"values":[0,5,10,15,20,25,30],"labelExpr":"datum.value % 15 == 0 ? datum.label : ''","domain":false,"tickSize":6,"labelPadding":12,"title":"Activity (sp/s)","titleX":-61,"titleY":149,"titleAngle":-90,"titleBaseline":"middle","titleAlign":"center","labelFlush":false}},"y2":{"field":"hi"}}},
   {"mark":{"type":"tick","orient":"horizontal","color":"black","size":11,"thickness":2,"opacity":1},
    "encoding":{"y":{"field":"lo","type":"quantitative"}}},
   {"mark":{"type":"tick","orient":"horizontal","color":"black","size":11,"thickness":2,"opacity":1},
    "encoding":{"y":{"field":"hi","type":"quantitative"}}},
   {"mark":{"type":"point","filled":true,"color":"black","size":45,"opacity":1},
    "encoding":{"y":{"field":"m","type":"quantitative"}}}
  ]}
]
}
